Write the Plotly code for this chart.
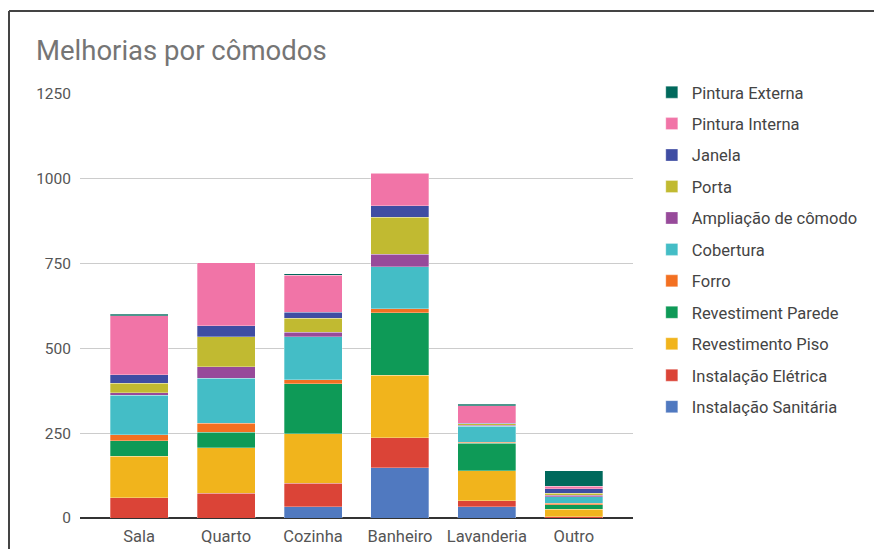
import plotly.graph_objects as go

# Rooms (x categories)
comodos = ["Sala", "Quarto", "Cozinha", "Banheiro", "Lavanderia", "Outro"]

# Improvement counts per room, one list per improvement type
instalacao_sanitaria = [0, 0, 33, 148, 33, 0]
instalacao_eletrica = [60, 73, 69, 88, 18, 3]
revestimento_piso = [122, 134, 147, 185, 88, 23]
revestiment_parede = [46, 46, 147, 184, 81, 13]
forro = [17, 26, 12, 12, 4, 5]
cobertura = [117, 133, 127, 124, 46, 19]
ampliacao_comodo = [8, 34, 12, 36, 4, 4]
porta = [27, 88, 42, 110, 4, 6]
janela = [25, 33, 18, 33, 2, 13]
pintura_interna = [174, 186, 109, 96, 51, 7]
pintura_externa = [4, 0, 4, 2, 5, 46]

y_ticks = [0, 250, 500, 750, 1000, 1250]

series = [
    ("Instalação Sanitária", instalacao_sanitaria, "#5079c0"),
    ("Instalação Elétrica", instalacao_eletrica, "#db4437"),
    ("Revestimento Piso", revestimento_piso, "#f1b41c"),
    ("Revestiment Parede", revestiment_parede, "#0e9a57"),
    ("Forro", forro, "#f37021"),
    ("Cobertura", cobertura, "#44bdc6"),
    ("Ampliação de cômodo", ampliacao_comodo, "#974a9a"),
    ("Porta", porta, "#c1ba31"),
    ("Janela", janela, "#3f4da3"),
    ("Pintura Interna", pintura_interna, "#f174a7"),
    ("Pintura Externa", pintura_externa, "#00695c"),
]

fig = go.Figure()
n = len(series)
for i, (name, vals, color) in enumerate(series):
    fig.add_trace(go.Bar(
        name=name, x=comodos, y=vals, legendgroup=name,
        legendrank=1000 + (n - i),  # top of stack listed first
        marker=dict(color=color, line=dict(color="rgba(255,255,255,0.5)", width=0.6)),
    ))

fig.update_layout(
    width=874, height=549,
    barmode="stack", bargap=0.333,
    paper_bgcolor="white", plot_bgcolor="white",
    margin=dict(l=80, r=241, t=94, b=31, autoexpand=False),
    font=dict(family="Roboto, Arial, sans-serif", color="#555555"),
    title=dict(text="Melhorias por cômodos", x=36 / 874, xanchor="left",
               y=1 - 50 / 549, yanchor="middle",
               font=dict(size=27.5, color="#757575")),
    xaxis=dict(range=[-0.68, 5.68], showgrid=False, ticks="",
               tickfont=dict(size=16.5, color="#555555"),
               ticklabelstandoff=6, automargin=False),
    yaxis=dict(range=[0, 1250], tickvals=y_ticks, showgrid=True,
               gridcolor="#cccccc", gridwidth=1, zeroline=True,
               zerolinecolor="#333333", zerolinewidth=2,
               tickfont=dict(size=15.5, color="#555555"), ticks="",
               ticklabelstandoff=8, automargin=False),
    legend=dict(x=1.034, xanchor="left", y=1.045, yanchor="top",
                traceorder="grouped", tracegroupgap=7, maxheight=1,
                font=dict(size=16.5, color="#444444"),
                bgcolor="rgba(0,0,0,0)"),
    showlegend=True,
)

# Frame lines along the top and left edges of the card
frame_x = (9 - 80) / 553
frame_y = (518.3 - 11) / 424.3
fig.add_shape(type="line", xref="paper", yref="paper",
              x0=frame_x, x1=1.5, y0=frame_y, y1=frame_y,
              line=dict(color="#444444", width=2))
fig.add_shape(type="line", xref="paper", yref="paper",
              x0=frame_x, x1=frame_x, y0=frame_y, y1=-0.2,
              line=dict(color="#444444", width=2))

fig.write_html("out.html")
